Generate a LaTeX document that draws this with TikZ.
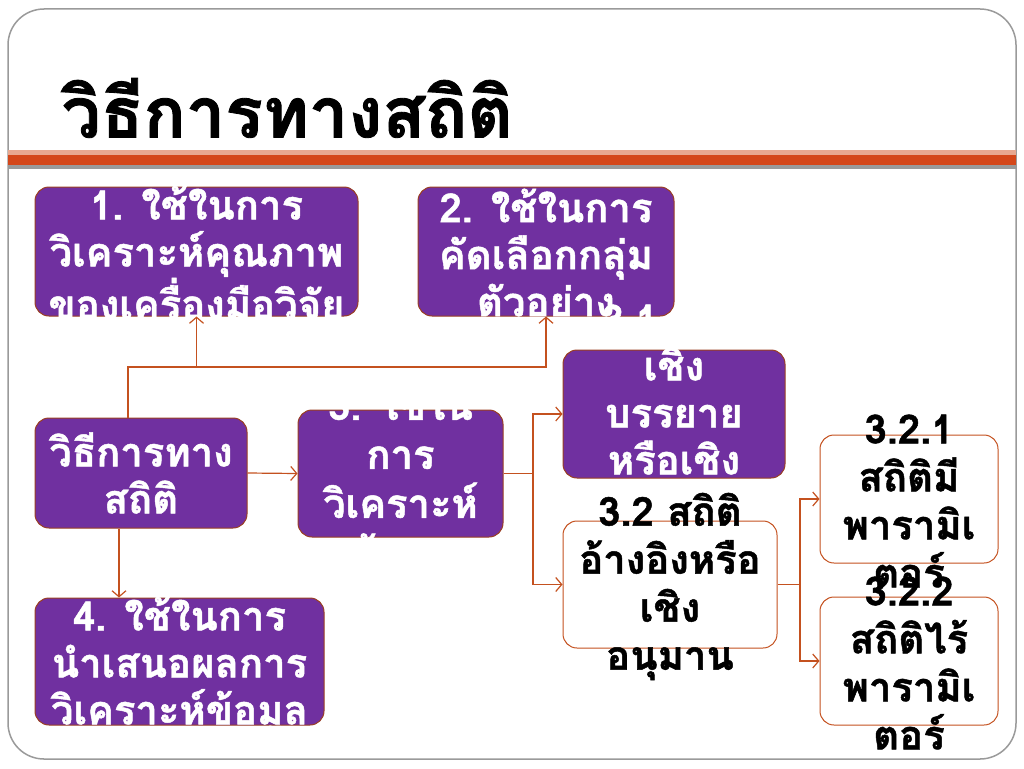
\documentclass[tikz,border=0pt]{standalone}
\usepackage{fontspec}
\newfontfamily\thaifont[Script=Thai,BoldFeatures={FakeBold=1.2}]{Loma}
\usetikzlibrary{arrows.meta}
\definecolor{slidepurple}{HTML}{7030A0}
\definecolor{boxedge}{HTML}{9A3E22}
\definecolor{lineorange}{HTML}{C4511F}
\definecolor{bandorange}{HTML}{D4471A}
\definecolor{bandlight}{HTML}{E8A890}
\definecolor{bandgray}{HTML}{9A9A9A}
\begin{document}
\begin{tikzpicture}[x=1pt,y=-1pt,
    pbox/.style={draw=boxedge,fill=slidepurple,rounded corners=14pt,line width=1pt,inner sep=0pt},
    wbox/.style={draw=lineorange,fill=white,rounded corners=14pt,line width=1pt,inner sep=0pt},
    ptext/.style={text=white,font=\thaifont\bfseries\fontsize{40}{47}\selectfont,align=center},
    wtext/.style={text=black,font=\thaifont\bfseries\fontsize{40}{48}\selectfont,align=center},
    conn/.style={draw=lineorange,line width=1.2pt,-{Straight Barb[length=6pt,width=14pt]}}]
        \useasboundingbox (0,0) rectangle (1024,768);
        % slide frame and title
        \draw [bandgray, line width=1.5pt, rounded corners=36pt] (8,9) rectangle (1016,759);
        \node [anchor=west, font=\thaifont\bfseries\fontsize{70}{78}\selectfont] (title) at (58,108) {วิธีการทางสถิติ};
        \fill [bandlight] (8,150) rectangle (1016,155);
        \fill [bandorange] (8,155) rectangle (1016,165);
        \fill [bandgray] (8,165) rectangle (1016,169);
        % boxes
        \node [pbox, minimum width=323, minimum height=129, label={[ptext, yshift=-1]center:1. ใช้ในการ\\วิเคราะห์คุณภาพ\\ของเครื่องมือวิจัย}] (use1) at (196.5,251.5) {};
        \node [pbox, minimum width=256, minimum height=129, label={[ptext, yshift=-1]center:2. ใช้ในการ\\คัดเลือกกลุ่ม\\ตัวอย่าง}] (use2) at (546,251.5) {};
        \node [pbox, minimum width=222, minimum height=128, label={[ptext, yshift=3]center:3.1 สถิติ\\เชิง\\บรรยาย\\หรือเชิง\\พรรณนา}] (desc) at (674,414) {};
        \node [pbox, minimum width=212, minimum height=110, label={[ptext]center:วิธีการทาง\\สถิติ}] (root) at (141,473) {};
        \node [pbox, minimum width=205, minimum height=127, label={[ptext, font=\thaifont\bfseries\fontsize{40}{49}\selectfont, yshift=-8]center:3. ใช้ใน\\การ\\วิเคราะห์\\ข้อมูล}] (analyze) at (400.5,473.5) {};
        \node [pbox, minimum width=289, minimum height=127, label={[ptext, yshift=-4]center:4. ใช้ในการ\\นำเสนอผลการ\\วิเคราะห์ข้อมูล}] (present) at (179.5,661.5) {};
        \node [wbox, minimum width=214, minimum height=127, label={[wtext, yshift=-2]center:3.2 สถิติ\\อ้างอิงหรือ\\เชิง\\อนุมาน}] (infer) at (670,584.5) {};
        \node [wbox, minimum width=178, minimum height=128, label={[wtext, yshift=-2]center:3.2.1\\สถิติมี\\พารามิเ\\ตอร์}] (param) at (909,499) {};
        \node [wbox, minimum width=178, minimum height=128, label={[wtext, yshift=-2]center:3.2.2\\สถิติไร้\\พารามิเ\\ตอร์}] (nonparam) at (909,661) {};
        % connectors
        \coordinate (hub) at (128,367);
        \coordinate (down) at (119,600);
        \coordinate (split3) at (533,473.5);
        \coordinate (split32) at (800,584.5);
        \draw [conn] (root.north -| hub) -- (hub) -| (use1.south);
        \draw [conn] (hub) -| (use2.south);
        \draw [conn] (root.south -| down) -- (present.north -| down);
        \draw [conn] (root.east) -- (analyze.west);
        \draw [conn] (analyze.east) -- (split3) |- (desc.west);
        \draw [conn] (split3) |- (infer.west);
        \draw [conn] (infer.east) -- (split32) |- (param.west);
        \draw [conn] (split32) |- (nonparam.west);
    \end{tikzpicture}
\end{document}
